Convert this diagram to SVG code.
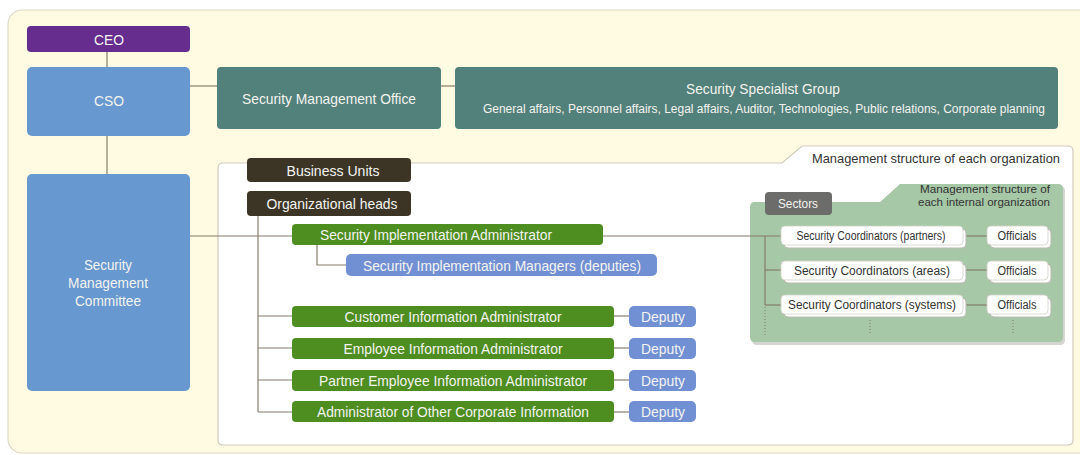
<svg xmlns="http://www.w3.org/2000/svg" width="1080" height="455" viewBox="0 0 1080 455">
<defs>
<style>
.t{font-family:"Liberation Sans",Arial,sans-serif;fill:#f4f4f0;text-anchor:middle}
.d{font-family:"Liberation Sans",Arial,sans-serif;fill:#333;text-anchor:middle}
.ln{stroke:#857c6b;stroke-width:1.2;fill:none}
.dot{stroke:#7a7a6a;stroke-width:1;stroke-dasharray:1 2;fill:none}
.purple{fill:#662c8e}
.blue{fill:#6798cf}
.teal{fill:#52807a}
.brown{fill:#3c3526}
.green{fill:#4e8d20}
.dep{fill:#7190d3}
.wbk{fill:#fff;stroke:#b8b8b0;stroke-width:1}
.wfr{fill:#fff;stroke:#d0d0c8;stroke-width:0.8}
</style>
</defs>
<rect x="0" y="0" width="1080" height="455" fill="#fff"/>
<rect x="8" y="10" width="1100" height="443" rx="14" fill="#fefbe2" stroke="#ddd9c6" stroke-width="1.2"/>

<g id="connectors">
<line class="ln" x1="107" y1="52" x2="107" y2="67"/>
<line class="ln" x1="107" y1="136" x2="107" y2="174"/>
<line class="ln" x1="190" y1="86" x2="217" y2="86"/>
<line class="ln" x1="441" y1="86" x2="455" y2="86"/>
</g>

<g id="management-box">
<path d="M223,163 L782,163 L802,146 L1068,146 Q1073,146 1073,151 L1073,440 Q1073,445 1068,445 L223,445 Q218,445 218,440 L218,168 Q218,163 223,163 Z" fill="#fff" stroke="#cfcbbd" stroke-width="1.2"/>
<text class="d" x="936" y="163" font-size="13.5" textLength="248" lengthAdjust="spacingAndGlyphs" fill="#2a2a2a">Management structure of each organization</text>
</g>

<g id="sectors-box">
<path d="M757,204 L882,204 L902,186 L1060,186 Q1065,186 1065,191 L1065,340 Q1065,345 1060,345 L757,345 Q752,345 752,340 L752,209 Q752,204 757,204 Z" fill="#b9b9b0" opacity="0.6"/>
<path d="M755,202 L880,202 L900,184 L1058,184 Q1063,184 1063,189 L1063,337 Q1063,342 1058,342 L755,342 Q750,342 750,337 L750,207 Q750,202 755,202 Z" fill="#a6c8a6"/>
<text class="d" x="985" y="193" font-size="11.5" textLength="130" lengthAdjust="spacingAndGlyphs" fill="#2f3a2f">Management structure of</text>
<text class="d" x="984" y="206" font-size="11.5" textLength="132" lengthAdjust="spacingAndGlyphs" fill="#2f3a2f">each internal organization</text>
</g>

<g id="connectors2">
<polyline class="ln" points="190,236 292,236"/>
<polyline class="ln" points="603,236 781,236"/>
<line class="ln" x1="258" y1="216" x2="258" y2="412"/>
<line class="ln" x1="258" y1="316" x2="292" y2="316"/>
<line class="ln" x1="258" y1="348" x2="292" y2="348"/>
<line class="ln" x1="258" y1="380" x2="292" y2="380"/>
<line class="ln" x1="258" y1="412" x2="292" y2="412"/>
<polyline class="ln" points="317,245 317,265 346,265"/>
<line class="ln" x1="614" y1="316" x2="629" y2="316"/>
<line class="ln" x1="614" y1="348" x2="629" y2="348"/>
<line class="ln" x1="614" y1="380" x2="629" y2="380"/>
<line class="ln" x1="614" y1="412" x2="629" y2="412"/>
<line class="ln" x1="765" y1="236" x2="765" y2="305"/>
<line class="ln" x1="765" y1="270" x2="781" y2="270"/>
<line class="ln" x1="765" y1="305" x2="781" y2="305"/>
<line class="dot" x1="765" y1="307" x2="765" y2="335"/>
<line class="dot" x1="870" y1="320" x2="870" y2="335"/>
<line class="dot" x1="1013" y1="320" x2="1013" y2="335"/>
<line class="ln" x1="963" y1="236" x2="987" y2="236"/>
<line class="ln" x1="963" y1="270" x2="987" y2="270"/>
<line class="ln" x1="963" y1="305" x2="987" y2="305"/>
</g>

<g id="ceo">
<rect class="purple" x="27" y="26" width="163" height="26" rx="4"/>
<text class="t" x="109" y="45" font-size="14" textLength="30" lengthAdjust="spacingAndGlyphs">CEO</text>
</g>
<g id="cso">
<rect class="blue" x="27" y="67" width="163" height="69" rx="5"/>
<text class="t" x="109" y="106" font-size="15" textLength="30" lengthAdjust="spacingAndGlyphs">CSO</text>
</g>
<g id="security-management-office">
<rect class="teal" x="217" y="67" width="224" height="62" rx="4"/>
<text class="t" x="329" y="104" font-size="15" textLength="174" lengthAdjust="spacingAndGlyphs">Security Management Office</text>
</g>
<g id="security-specialist-group">
<rect class="teal" x="455" y="67" width="603" height="62" rx="4"/>
<text class="t" x="763" y="94" font-size="15" textLength="154" lengthAdjust="spacingAndGlyphs">Security Specialist Group</text>
<text class="t" x="764" y="113" font-size="12.5" textLength="562" lengthAdjust="spacingAndGlyphs">General affairs, Personnel affairs, Legal affairs, Auditor, Technologies, Public relations, Corporate planning</text>
</g>
<g id="security-management-committee">
<rect class="blue" x="27" y="174" width="163" height="217" rx="5"/>
<text class="t" x="108" y="270" font-size="14" textLength="48" lengthAdjust="spacingAndGlyphs">Security</text>
<text class="t" x="108" y="288" font-size="14" textLength="80" lengthAdjust="spacingAndGlyphs">Management</text>
<text class="t" x="108" y="306" font-size="14" textLength="66" lengthAdjust="spacingAndGlyphs">Committee</text>
</g>

<g id="business-units">
<rect class="brown" x="247" y="158" width="164" height="24" rx="4"/>
<text class="t" x="333" y="176" font-size="14.5" textLength="93" lengthAdjust="spacingAndGlyphs">Business Units</text>
</g>
<g id="organizational-heads">
<rect class="brown" x="247" y="191" width="164" height="25" rx="4"/>
<text class="t" x="332" y="209" font-size="14.5" textLength="131" lengthAdjust="spacingAndGlyphs">Organizational heads</text>
</g>
<g id="security-implementation-administrator">
<rect class="green" x="292" y="224" width="311" height="21" rx="4"/>
<text class="t" x="436" y="240" font-size="14.5" textLength="232" lengthAdjust="spacingAndGlyphs">Security Implementation Administrator</text>
</g>
<g id="security-implementation-managers">
<rect class="dep" x="346" y="254" width="311" height="22" rx="5"/>
<text class="t" x="502" y="271" font-size="14.5" textLength="278" lengthAdjust="spacingAndGlyphs">Security Implementation Managers (deputies)</text>
</g>
<g id="customer-information-administrator">
<rect class="green" x="292" y="306" width="322" height="21" rx="4"/>
<text class="t" x="453" y="322" font-size="14.5" textLength="217" lengthAdjust="spacingAndGlyphs">Customer Information Administrator</text>
</g>
<g id="deputy-1">
<rect class="dep" x="629" y="306" width="67" height="21" rx="5"/>
<text class="t" x="663" y="322" font-size="14.5" textLength="44" lengthAdjust="spacingAndGlyphs">Deputy</text>
</g>
<g id="employee-information-administrator">
<rect class="green" x="292" y="338" width="322" height="21" rx="4"/>
<text class="t" x="453" y="354" font-size="14.5" textLength="219" lengthAdjust="spacingAndGlyphs">Employee Information Administrator</text>
</g>
<g id="deputy-2">
<rect class="dep" x="629" y="338" width="67" height="21" rx="5"/>
<text class="t" x="663" y="354" font-size="14.5" textLength="44" lengthAdjust="spacingAndGlyphs">Deputy</text>
</g>
<g id="partner-employee-information-administrator">
<rect class="green" x="292" y="370" width="322" height="21" rx="4"/>
<text class="t" x="453" y="386" font-size="14.5" textLength="268" lengthAdjust="spacingAndGlyphs">Partner Employee Information Administrator</text>
</g>
<g id="deputy-3">
<rect class="dep" x="629" y="370" width="67" height="21" rx="5"/>
<text class="t" x="663" y="386" font-size="14.5" textLength="44" lengthAdjust="spacingAndGlyphs">Deputy</text>
</g>
<g id="administrator-other-corporate-information">
<rect class="green" x="292" y="401" width="322" height="21" rx="4"/>
<text class="t" x="453" y="417" font-size="14.5" textLength="272" lengthAdjust="spacingAndGlyphs">Administrator of Other Corporate Information</text>
</g>
<g id="deputy-4">
<rect class="dep" x="629" y="401" width="67" height="21" rx="5"/>
<text class="t" x="663" y="417" font-size="14.5" textLength="44" lengthAdjust="spacingAndGlyphs">Deputy</text>
</g>

<g id="sectors">
<rect x="765" y="192" width="67" height="23" rx="4" fill="#6c6c6a"/>
<text class="t" x="798" y="208" font-size="13" textLength="40" lengthAdjust="spacingAndGlyphs" fill="#e8e8e8">Sectors</text>
</g>
<g id="coordinators-partners">
<rect class="wbk" x="784" y="229" width="182" height="19" rx="4"/>
<rect class="wfr" x="781" y="226" width="182" height="19" rx="4"/>
<text class="d" x="871" y="240" font-size="12" textLength="149" lengthAdjust="spacingAndGlyphs">Security Coordinators (partners)</text>
</g>
<g id="officials-1">
<rect class="wbk" x="990" y="229" width="61" height="19" rx="4"/>
<rect class="wfr" x="987" y="226" width="61" height="19" rx="4"/>
<text class="d" x="1017" y="240" font-size="12" textLength="39" lengthAdjust="spacingAndGlyphs">Officials</text>
</g>
<g id="coordinators-areas">
<rect class="wbk" x="784" y="264" width="182" height="19" rx="4"/>
<rect class="wfr" x="781" y="261" width="182" height="19" rx="4"/>
<text class="d" x="872" y="275" font-size="12" textLength="156" lengthAdjust="spacingAndGlyphs">Security Coordinators (areas)</text>
</g>
<g id="officials-2">
<rect class="wbk" x="990" y="264" width="61" height="19" rx="4"/>
<rect class="wfr" x="987" y="261" width="61" height="19" rx="4"/>
<text class="d" x="1017" y="275" font-size="12" textLength="39" lengthAdjust="spacingAndGlyphs">Officials</text>
</g>
<g id="coordinators-systems">
<rect class="wbk" x="784" y="298" width="182" height="19" rx="4"/>
<rect class="wfr" x="781" y="295" width="182" height="19" rx="4"/>
<text class="d" x="872" y="309" font-size="12" textLength="168" lengthAdjust="spacingAndGlyphs">Security Coordinators (systems)</text>
</g>
<g id="officials-3">
<rect class="wbk" x="990" y="298" width="61" height="19" rx="4"/>
<rect class="wfr" x="987" y="295" width="61" height="19" rx="4"/>
<text class="d" x="1017" y="309" font-size="12" textLength="39" lengthAdjust="spacingAndGlyphs">Officials</text>
</g>
</svg>
